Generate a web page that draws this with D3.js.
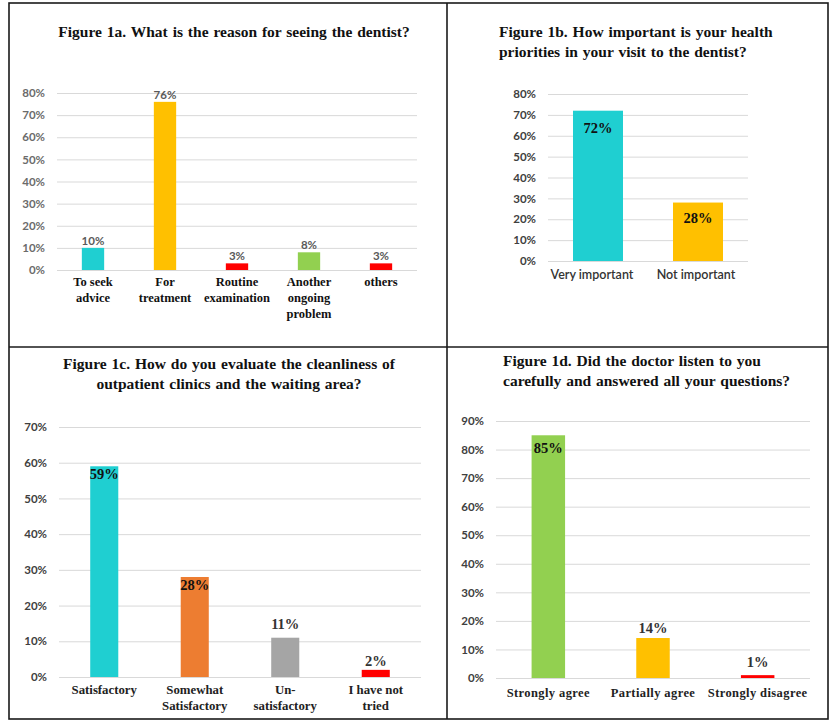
<!DOCTYPE html>
<html>
<head>
<meta charset="utf-8">
<script src="https://cdn.jsdelivr.net/npm/d3@7"></script>
<style>
  html, body { margin: 0; padding: 0; background: #fff; }
  svg { display: block; }
</style>
</head>
<body>
<svg id="fig" width="830" height="720"></svg>
<script>
// Figure 1a – reason for the visit
const reasonCategories = [["To seek", "advice"], ["For", "treatment"], ["Routine", "examination"], ["Another", "ongoing", "problem"], ["others"]];
const reasonValues = [10, 76, 3, 8, 3];
const reasonTicks = [0, 10, 20, 30, 40, 50, 60, 70, 80];

// Figure 1b – importance of health priorities
const priorityCategories = [["Very important"], ["Not important"]];
const priorityValues = [72, 28];
const priorityTicks = [0, 10, 20, 30, 40, 50, 60, 70, 80];

// Figure 1c – cleanliness of clinics and waiting area
const cleanCategories = [["Satisfactory"], ["Somewhat", "Satisfactory"], ["Un-", "satisfactory"], ["I have  not", "tried"]];
const cleanValues = [59, 28, 11, 2];
const cleanTicks = [0, 10, 20, 30, 40, 50, 60, 70];

// Figure 1d – doctor listened and answered
const listenCategories = [["Strongly agree"], ["Partially agree"], ["Strongly disagree"]];
const listenValues = [85, 14, 1];
const listenTicks = [0, 10, 20, 30, 40, 50, 60, 70, 80, 90];

const C = {
  cyan: "#1FCFD1", gold: "#FFC000", red: "#FF0000",
  green: "#92D050", orange: "#ED7D31", gray: "#A5A5A5"
};

const SERIF = "'Liberation Serif', 'Times New Roman', serif";
const SANS = "Lato, 'Open Sans', sans-serif";

const svg = d3.select("#fig");

// frame: outer box plus the two dividing lines
const frame = svg.append("g").attr("fill", "none").attr("stroke", "#1a1a1a").attr("stroke-width", 1.6);
frame.append("rect").attr("x", 9).attr("y", 3).attr("width", 819).attr("height", 716);
frame.append("line").attr("x1", 447).attr("x2", 447).attr("y1", 3).attr("y2", 719);
frame.append("line").attr("x1", 9).attr("x2", 828).attr("y1", 347).attr("y2", 347);

function drawPanel(p) {
  const g = svg.append("g");

  // title
  const title = g.append("text")
    .attr("font-family", SERIF).attr("font-weight", "bold")
    .attr("font-size", p.titleSize).attr("fill", "#111")
    .attr("text-anchor", p.titleAnchor)
    .style("word-spacing", "1px");
  p.title.forEach((line, i) => {
    title.append("tspan").attr("x", p.titleX).attr("y", p.titleY + i * 20).text(line);
  });

  const x = d3.scaleBand().domain(d3.range(p.values.length))
    .range([p.x0, p.x1]).paddingInner(p.pad).paddingOuter(p.pad / 2);
  const y = d3.scaleLinear().domain([0, d3.max(p.ticks)]).range([p.yBase, p.yTop]);

  // horizontal gridlines and value axis labels
  const yAxis = d3.axisLeft(y).tickValues(p.ticks).tickSize(-(p.x1 - p.x0)).tickPadding(12)
    .tickFormat(d => d + "%");
  const ya = g.append("g").attr("transform", `translate(${p.x0},0)`).call(yAxis);
  ya.select(".domain").remove();
  ya.selectAll(".tick line").attr("stroke", "#D9D9D9").attr("stroke-width", 1);
  ya.selectAll(".tick text")
    .attr("font-family", SANS).attr("font-size", 11.5)
    .attr("font-weight", p.tickWeight).attr("fill", p.tickColor);

  // bars
  g.append("g").selectAll("rect").data(p.values).join("rect")
    .attr("x", (d, i) => x(i)).attr("width", x.bandwidth())
    .attr("y", d => y(d)).attr("height", d => p.yBase - y(d))
    .attr("fill", (d, i) => p.colors[i]);

  // value labels
  g.append("g").selectAll("text").data(p.values).join("text")
    .attr("x", (d, i) => x(i) + x.bandwidth() / 2)
    .attr("y", (d, i) => y(d) + p.labelOffset[i])
    .attr("text-anchor", "middle")
    .attr("font-family", p.labelFont).attr("font-weight", "bold")
    .attr("font-size", p.labelSize)
    .attr("fill", (d, i) => p.labelColor[i])
    .text(d => d + "%");

  // category labels
  const cat = g.append("g").selectAll("text").data(p.categories).join("text")
    .attr("text-anchor", "middle")
    .attr("font-family", p.catFont).attr("font-weight", p.catWeight)
    .attr("font-size", p.catSize).attr("fill", p.catColor)
    .style("letter-spacing", p.catSpacing || "0px");
  cat.each(function (lines, i) {
    const t = d3.select(this);
    lines.forEach((ln, k) => {
      t.append("tspan").attr("x", x(i) + x.bandwidth() / 2 + (p.catShift ? p.catShift[i] : 0))
        .attr("y", p.catY + k * 16).text(ln);
    });
  });
}

drawPanel({
  title: ["Figure  1a. What  is the reason for seeing the dentist?"],
  titleX: 234, titleY: 37, titleAnchor: "middle", titleSize: 15.5,
  values: reasonValues, categories: reasonCategories, ticks: reasonTicks,
  colors: [C.cyan, C.gold, C.red, C.green, C.red],
  x0: 57, x1: 417, yBase: 270, yTop: 93, pad: 0.69,
  tickWeight: "bold", tickColor: "#6b6b6b",
  labelFont: SANS, labelSize: 11.5, labelOffset: [-3, -3, -3, -3, -3],
  labelColor: ["#5a5a5a", "#5a5a5a", "#5a5a5a", "#5a5a5a", "#5a5a5a"],
  catFont: SERIF, catWeight: "bold", catSize: 12.5, catColor: "#111", catY: 286
});

drawPanel({
  title: ["Figure  1b. How important  is your health", "priorities  in your visit to the dentist?"],
  titleX: 499, titleY: 37, titleAnchor: "start", titleSize: 15.5,
  values: priorityValues, categories: priorityCategories, ticks: priorityTicks,
  colors: [C.cyan, C.gold],
  x0: 548, x1: 748, yBase: 261, yTop: 94, pad: 0.5,
  tickWeight: "bold", tickColor: "#404040",
  labelFont: SERIF, labelSize: 14.5, labelOffset: [22, 20],
  labelColor: ["#111", "#111"],
  catFont: SANS, catWeight: "600", catSize: 12.5, catColor: "#333", catY: 279,
  catShift: [-6, -2]
});

drawPanel({
  title: ["Figure  1c. How  do  you  evaluate the cleanliness of", "outpatient  clinics  and  the waiting  area?"],
  titleX: 229, titleY: 369, titleAnchor: "middle", titleSize: 15.5,
  values: cleanValues, categories: cleanCategories, ticks: cleanTicks,
  colors: [C.cyan, C.orange, C.gray, C.red],
  x0: 59, x1: 421, yBase: 677, yTop: 427, pad: 0.69,
  tickWeight: "bold", tickColor: "#404040",
  labelFont: SERIF, labelSize: 14.5, labelOffset: [13, 13, -9, -4],
  labelColor: ["#111", "#111", "#333", "#333"],
  catFont: SERIF, catWeight: "bold", catSize: 12.8, catColor: "#222", catY: 694
});

drawPanel({
  title: ["Figure  1d. Did the doctor  listen to you", "carefully  and  answered  all your questions?"],
  titleX: 503, titleY: 366, titleAnchor: "start", titleSize: 15.5,
  values: listenValues, categories: listenCategories, ticks: listenTicks,
  colors: [C.green, C.gold, C.red],
  x0: 496, x1: 810, yBase: 678, yTop: 421, pad: 0.68,
  tickWeight: "bold", tickColor: "#404040",
  labelFont: SERIF, labelSize: 14.5, labelOffset: [18, -5, -8],
  labelColor: ["#111", "#333", "#333"],
  catFont: SERIF, catWeight: "bold", catSize: 12.5, catColor: "#222", catY: 697,
  catSpacing: "0.4px"
});
</script>
</body>
</html>
